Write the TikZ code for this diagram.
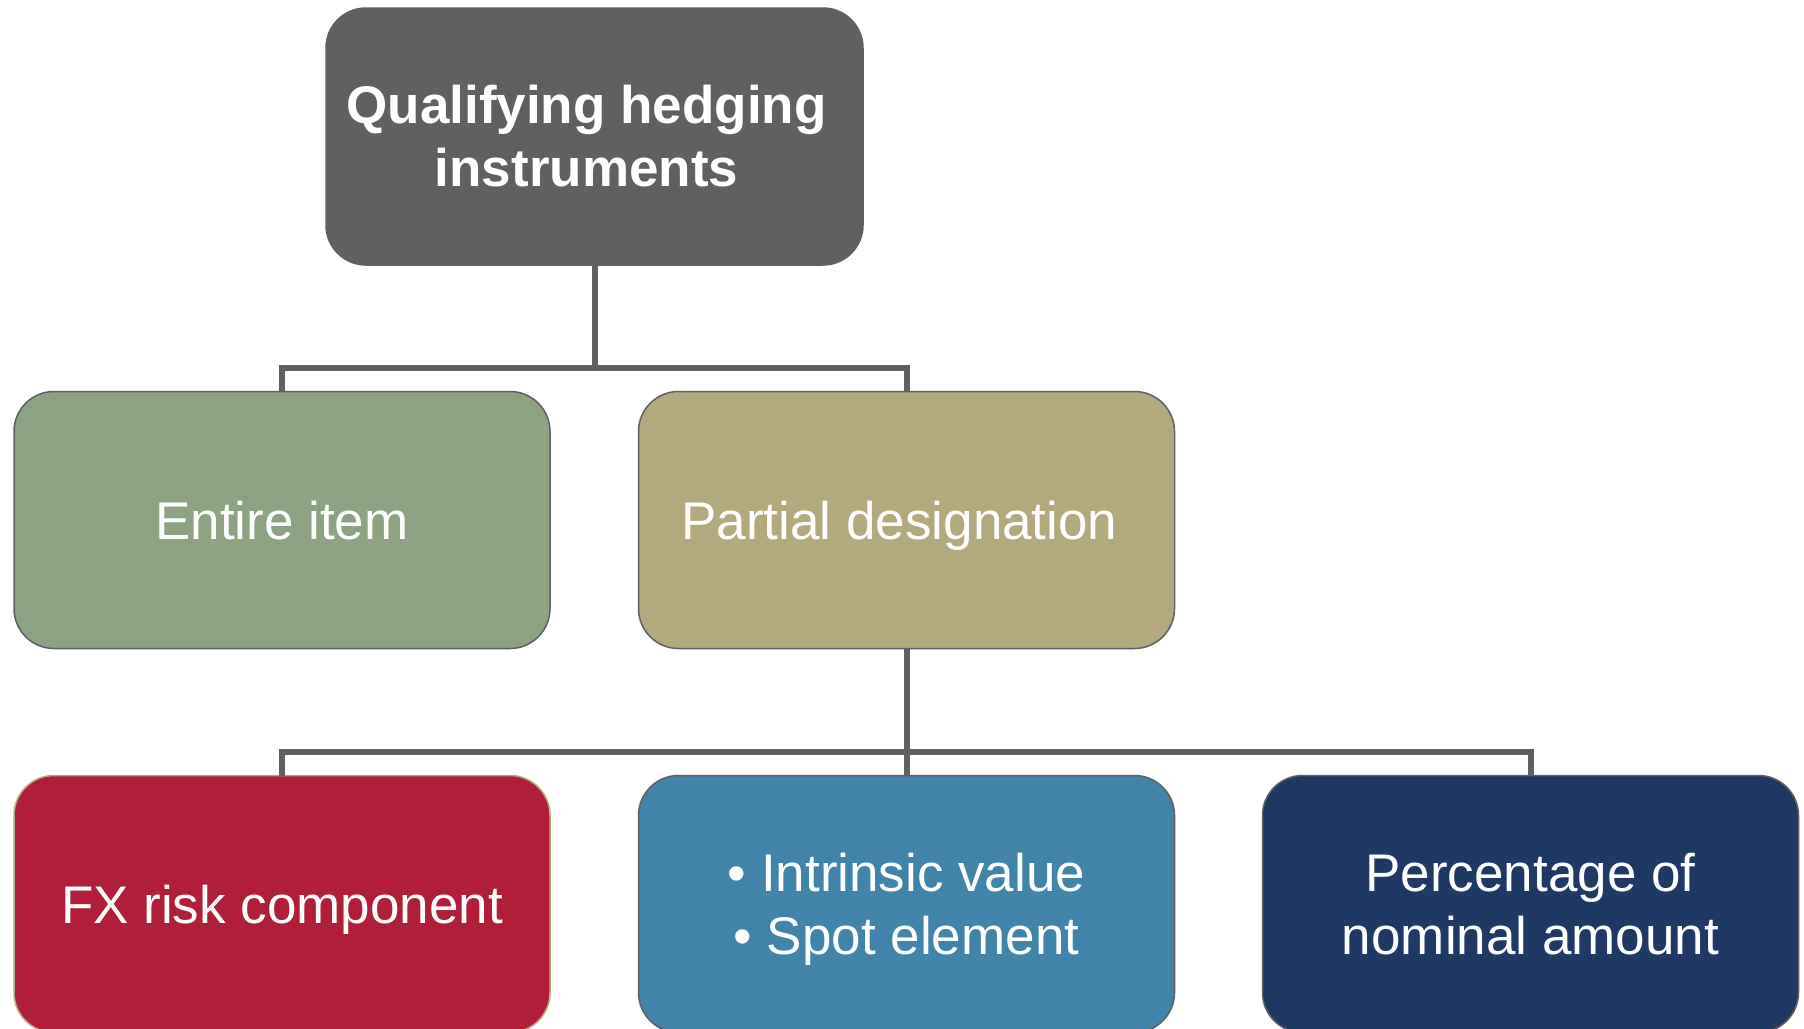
\documentclass[tikz,border=0pt]{standalone}
\usepackage{fontspec}
\setmainfont{Liberation Sans}
\definecolor{topgray}{HTML}{5F6062}
\definecolor{sage}{HTML}{8CA282}
\definecolor{khaki}{HTML}{B2AA7E}
\definecolor{crimson}{HTML}{B01E3A}
\definecolor{steel}{HTML}{4283A9}
\definecolor{navy}{HTML}{1F3864}
\definecolor{linegray}{HTML}{5F6062}
\newcommand{\nodesc}[1]{\raisebox{0pt}[\height][0pt]{#1}}
\tikzset{
  box/.style={rectangle, rounded corners=40pt, draw=linegray, line width=1.5pt,
    minimum width=536pt, minimum height=257pt, inner sep=0pt, outer sep=0pt,
    text=white, align=center, font=\fontsize{53}{63}\selectfont},
  onebox/.style={box, text depth=0pt},
  conn/.style={draw=linegray, line width=6pt, line join=miter}
}
\begin{document}
\begin{tikzpicture}[x=1pt,y=-1pt]
\useasboundingbox (0,0) rectangle (1804,1028);
\clip (0,0) rectangle (1804,1028);
\fill[white] (0,0) rectangle (1804,1028);
\node[box, fill=topgray, minimum width=537pt, minimum height=257pt, font=\bfseries\fontsize{53}{63}\selectfont] (top) at (594.5,136.5) {Qualifying hedging\hspace*{16pt}\\instruments\hspace*{16pt}};
\node[onebox, fill=sage] (entire) at (282,520) {Entire item};
\node[onebox, fill=khaki] (partial) at (906.5,520) {Partial designation\hspace{14pt}};
\node[onebox, fill=crimson, draw=khaki] (fx) at (282,904) {FX risk component};
\node[box, fill=steel] (intr) at (906.5,904) {\textbullet\ Intrinsic value\\\nodesc{\textbullet\ Spot element}};
\node[box, fill=navy] (pct) at (1530.5,904) {Percentage of\\nominal amount};
\draw[conn] (top.south) -- ++(0,103) -| (entire.north);
\draw[conn] (top.south) -- ++(0,103) -| (partial.north);
\draw[conn] (partial.south) -- ++(0,103) -| (fx.north);
\draw[conn] (partial.south) -- (intr.north);
\draw[conn] (partial.south) -- ++(0,103) -| (pct.north);
\end{tikzpicture}
\end{document}
